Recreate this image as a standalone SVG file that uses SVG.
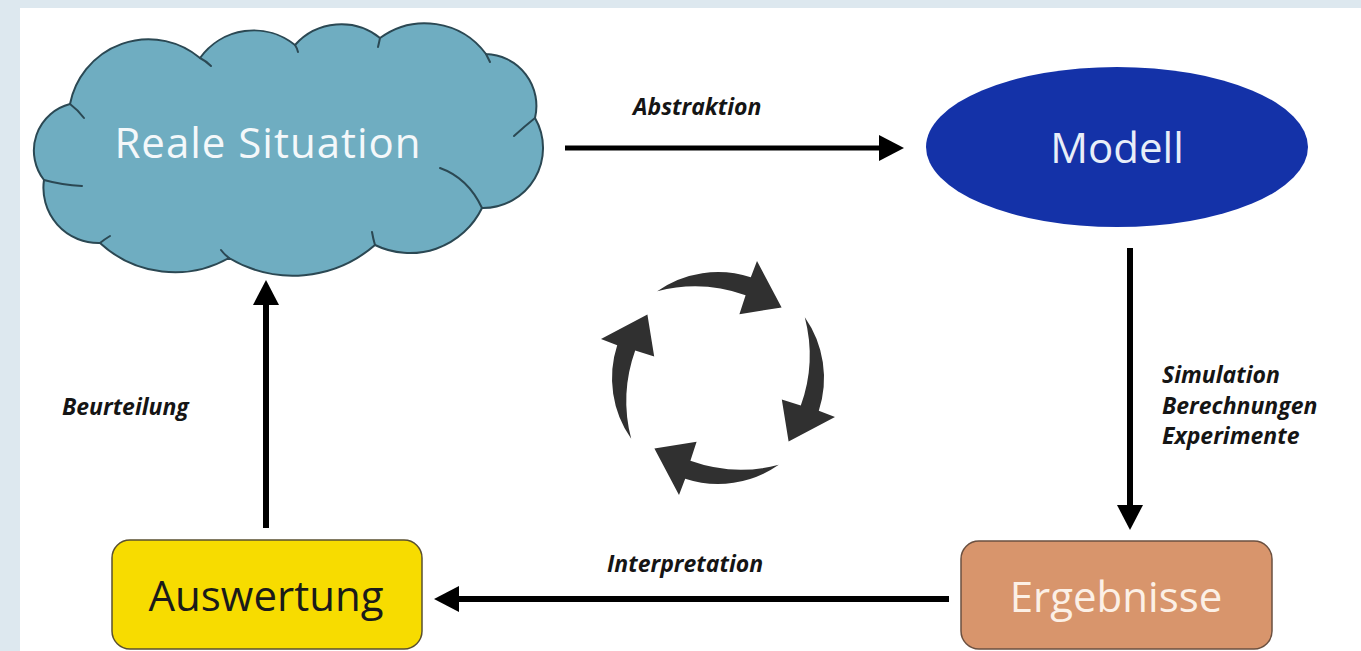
<svg xmlns="http://www.w3.org/2000/svg" width="1361" height="651" viewBox="0 0 1361 651">
<style>
.lbl{font-family:"Open Sans","Noto Sans","Liberation Sans",sans-serif;font-size:42px;text-anchor:middle}
.edge{font-family:"Open Sans","Noto Sans","Liberation Sans",sans-serif;font-size:23px;font-weight:700;font-style:italic;fill:#151515}
.conn{stroke:#000;stroke-width:5;fill:none;marker-end:url(#ah)}
.cyc{fill:#303030}
</style>
<defs>
<marker id="ah" markerUnits="userSpaceOnUse" markerWidth="26" markerHeight="26" viewBox="0 0 25 26" refX="0" refY="13" orient="auto">
<path d="M0,0 L25,13 L0,26 Z" fill="#000"/>
</marker>
<path id="cycarrow" d="M657.2,291.2 A106,106 0 0 1 750.8,277.2 L757,261 L781.6,307.4 L739.4,314.2 L745.6,295.2 A150,150 0 0 0 657.2,291.2 Z"/>
</defs>
<rect x="0" y="0" width="1361" height="651" fill="#dde8ef"/>
<rect x="20" y="8" width="1341" height="643" fill="#ffffff"/>

<g id="connectors">
<line class="conn" x1="565" y1="148" x2="879" y2="148"/>
<line class="conn" x1="1130" y1="248" x2="1130" y2="505" style="stroke-width:6"/>
<line class="conn" x1="949" y1="599" x2="459" y2="599" style="stroke-width:6"/>
<line class="conn" x1="266" y1="528" x2="266" y2="305" style="stroke-width:6"/>
<text class="edge" x="633" y="115">Abstraktion</text>
<text class="edge" x="1162" y="383">Simulation</text>
<text class="edge" x="1162" y="414">Berechnungen</text>
<text class="edge" x="1162" y="444">Experimente</text>
<text class="edge" x="607" y="572">Interpretation</text>
<text class="edge" x="62" y="415">Beurteilung</text>
</g>

<g id="cycle">
<use href="#cycarrow" class="cyc"/>
<use href="#cycarrow" class="cyc" transform="rotate(90 718 378)"/>
<use href="#cycarrow" class="cyc" transform="rotate(180 718 378)"/>
<use href="#cycarrow" class="cyc" transform="rotate(270 718 378)"/>
</g>

<g id="reale-situation">
<path d="M70,104 A80,80 0 0 1 200,58 A66,66 0 0 1 295,45 A62,62 0 0 1 380,38 A76,76 0 0 1 486,54 A52,52 0 0 1 535,118 A60,60 0 0 1 482,208 A80,80 0 0 1 375,245 A125,125 0 0 1 229,258 A110,110 0 0 1 100,243 A55,55 0 0 1 44,180 A48,48 0 0 1 70,104 Z" fill="#6fadc1" stroke="#2b4853" stroke-width="2" stroke-linejoin="round"/>
<g fill="none" stroke="#2b4853" stroke-width="2" stroke-linecap="round">
<path d="M70,104 Q78,110 84,118"/>
<path d="M200,58 Q206,61 211,66"/>
<path d="M295,45 Q297,48 298,52"/>
<path d="M380,38 Q379,43 378,47"/>
<path d="M486,54 Q488,58 490,62"/>
<path d="M535,118 Q525,126 514,136"/>
<path d="M482,208 Q468,178 440,168"/>
<path d="M375,245 Q373,238 372,232"/>
<path d="M229,258 Q224,254 221,250"/>
<path d="M100,243 Q105,239 110,236"/>
<path d="M44,180 Q62,185 82,186"/>
</g>
<text class="lbl" x="268" y="158" fill="#f4f8fa" letter-spacing="1">Reale Situation</text>
</g>

<g id="modell">
<ellipse cx="1117" cy="147" rx="191" ry="80" fill="#1432a8"/>
<text class="lbl" x="1117" y="163" fill="#e8eef8">Modell</text>
</g>

<g id="ergebnisse">
<rect x="961" y="541" width="311" height="108" rx="18" fill="#d8956c" stroke="#6b5040" stroke-width="1.5"/>
<text class="lbl" x="1116" y="612" fill="#fcf0e6">Ergebnisse</text>
</g>

<g id="auswertung">
<rect x="112" y="540" width="310" height="109" rx="18" fill="#f7dc00" stroke="#5a5030" stroke-width="1.5"/>
<text class="lbl" x="266" y="611" fill="#1a1a1a">Auswertung</text>
</g>
</svg>
